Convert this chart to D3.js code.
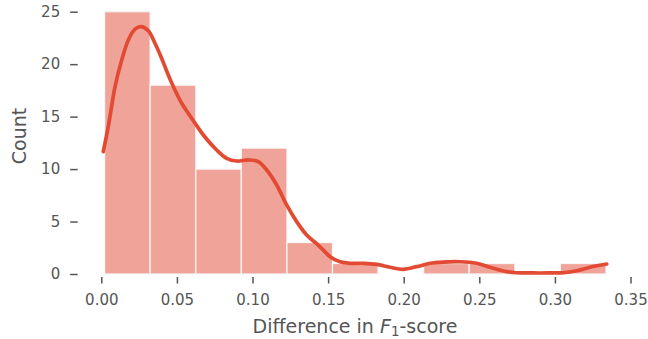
<!DOCTYPE html>
<html>
<head>
<meta charset="utf-8">
<script src="https://cdn.jsdelivr.net/npm/d3@7"></script>
<style>
  body { margin: 0; background: #fff; }
  text { font-family: "DejaVu Sans", sans-serif; fill: #555555; }
</style>
</head>
<body>
<div class="draw-hist"></div>
<script>
// histogram bins (edges) and counts
const binEdges = [0.0022, 0.0323, 0.0625, 0.0926, 0.1228, 0.1529, 0.1830, 0.2132, 0.2433, 0.2735, 0.3036, 0.3338];
const binCounts = [25, 18, 10, 12, 3, 1, 0, 1, 1, 0, 1];

// kde curve (x, count)
const kdeX = [0.0013, 0.0046, 0.0091, 0.0135, 0.0179, 0.0223, 0.0263, 0.0311, 0.0355, 0.0399, 0.0443, 0.0487,
  0.0532, 0.0575, 0.0620, 0.0675, 0.0763, 0.0829, 0.0896, 0.0972, 0.1038, 0.1094, 0.1160, 0.1226, 0.1292,
  0.1358, 0.1435, 0.1513, 0.1579, 0.1645, 0.1733, 0.1822, 0.1910, 0.1997, 0.2086, 0.2174, 0.2262, 0.2372,
  0.2483, 0.2571, 0.2659, 0.2747, 0.2857, 0.2968, 0.3056, 0.3144, 0.3232, 0.3343];
const kdeY = [11.66, 14.04, 17.86, 20.40, 22.31, 23.33, 23.58, 23.19, 21.99, 20.56, 18.97, 17.54,
  16.27, 15.32, 14.37, 13.25, 11.82, 11.03, 10.77, 10.87, 10.71, 9.91, 8.48, 6.58, 4.99,
  3.72, 2.76, 1.65, 1.17, 1.02, 1.02, 0.92, 0.64, 0.45, 0.70, 1.02, 1.14, 1.17,
  1.02, 0.64, 0.29, 0.12, 0.10, 0.10, 0.12, 0.31, 0.64, 0.95];

const xTicks = [0, 0.05, 0.10, 0.15, 0.20, 0.25, 0.30, 0.35];
const yTicks = [0, 5, 10, 15, 20, 25];

const width = 648, height = 339;
const svg = d3.select(".draw-hist").append("svg")
  .attr("width", width).attr("height", height);

let x = d3.scaleLinear().domain([0, 0.35]).range([101.3, 630.5]);
let y = d3.scaleLinear().domain([0, 25]).range([274, 11.7]);

// bars
const bins = binCounts.map((c, i) => ({ x0: binEdges[i], x1: binEdges[i + 1], count: c }));
svg.append("g")
  .selectAll("rect")
  .data(bins.filter(d => d.count > 0))
  .join("rect")
  .attr("x", d => x(d.x0))
  .attr("y", d => y(d.count))
  .attr("width", d => x(d.x1) - x(d.x0))
  .attr("height", d => y(0) - y(d.count))
  .attr("fill", "#f0a499")
  .attr("stroke", "#f7f7f7")
  .attr("stroke-width", 1.2);

// kde line
const kde = kdeX.map((v, i) => [v, kdeY[i]]);
svg.append("path")
  .datum(kde)
  .attr("fill", "none")
  .attr("stroke", "#E24A33")
  .attr("stroke-width", 3.7)
  .attr("stroke-linecap", "round")
  .attr("d", d3.line().x(d => x(d[0])).y(d => y(d[1])).curve(d3.curveCatmullRom));

// x axis
const xAxis = svg.append("g")
  .attr("transform", "translate(0,277)")
  .call(d3.axisBottom(x).tickValues(xTicks).tickFormat(d3.format(".2f")).tickSize(6.5).tickPadding(11));
xAxis.select(".domain").remove();
xAxis.selectAll("line").attr("stroke", "#555555").attr("stroke-width", 1.5);
xAxis.selectAll("text").style("font-size", "15px").attr("fill", "#555555");

// y axis
const yAxis = svg.append("g")
  .attr("transform", "translate(77.7,0)")
  .call(d3.axisLeft(y).tickValues(yTicks).tickSize(7.5).tickPadding(10));
yAxis.select(".domain").remove();
yAxis.selectAll("line").attr("stroke", "#555555").attr("stroke-width", 1.5);
yAxis.selectAll("text").style("font-size", "15px").attr("fill", "#555555");

// labels
svg.append("text")
  .attr("transform", "translate(26,136) rotate(-90)")
  .attr("text-anchor", "middle")
  .style("font-size", "19px")
  .text("Count");

const xl = svg.append("text")
  .attr("x", 355).attr("y", 333)
  .attr("text-anchor", "middle")
  .style("font-size", "19px");
xl.append("tspan").text("Difference in ");
xl.append("tspan").attr("font-style", "italic").text("F");
xl.append("tspan").attr("dy", 3).style("font-size", "13.5px").text("1");
xl.append("tspan").attr("dy", -3).text("-score");
</script>
</body>
</html>
